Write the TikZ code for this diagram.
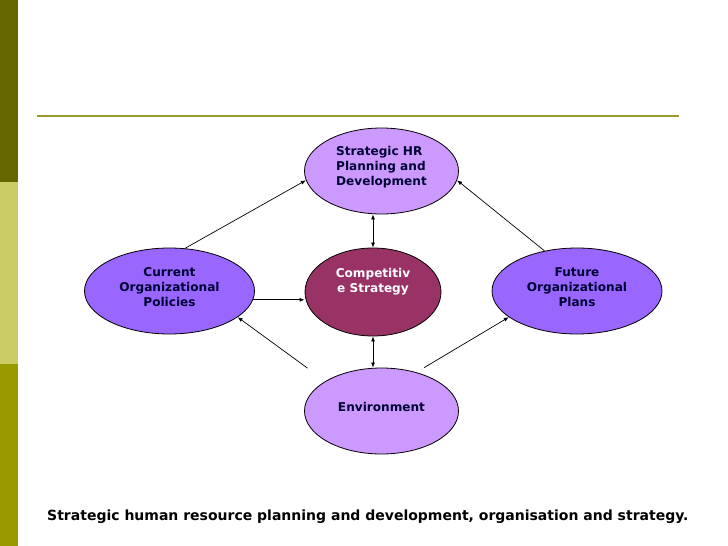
\documentclass[tikz,border=0pt]{standalone}
\usepackage{fontspec}
\setmainfont{DejaVu Sans}
\usetikzlibrary{arrows.meta,positioning,shapes.geometric,calc}
\definecolor{Pale}{HTML}{CC99FF}
\definecolor{Mid}{HTML}{9966FF}
\definecolor{Core}{HTML}{993366}
\definecolor{Ink}{HTML}{000033}
\definecolor{BarA}{HTML}{666600}
\definecolor{BarB}{HTML}{CCCC66}
\definecolor{BarC}{HTML}{999900}
\definecolor{Rule}{HTML}{999933}
\tikzset{
  oval/.style={ellipse, draw=black, line width=0.8pt, inner sep=0pt, align=center,
    text=Ink, font=\fontsize{12.1}{15}\selectfont\bfseries},
  pale/.style={oval, fill=Pale, minimum width=154pt, minimum height=86pt},
  mid/.style={oval, fill=Mid, minimum width=170pt, minimum height=86pt},
  core/.style={oval, fill=Core, text=white, minimum width=136pt, minimum height=88pt},
  link/.style={-{Latex[length=5pt,width=4pt]}, line width=0.7pt},
  both/.style={{Latex[length=5pt,width=4pt]}-{Latex[length=5pt,width=4pt]}, line width=0.7pt},
}

\begin{document}
\begin{tikzpicture}[x=1pt, y=-1pt]
  \useasboundingbox (0,0) rectangle (728,546);
  % side bars and rule
  \fill[BarA] (0,0) rectangle (18,182);
  \fill[BarB] (0,182) rectangle (18,364);
  \fill[BarC] (0,364) rectangle (18,546);
  \draw[Rule, line width=2pt] (37,116) -- (679,116);
  % ovals
  \node[pale, align=left, text depth=10pt] (top) at (381.5,171) {Strategic HR\\Planning and\\Development};
  \node[core, text depth=24pt] (comp) at (373,292) {Competitiv\\e Strategy};
  \node[mid, text depth=8pt] (cur) at (169.5,291) {Current\\Organizational\\Policies};
  \node[mid, text depth=8pt] (fut) at (577,291) {Future\\Organizational\\Plans};
  \node[pale, text depth=8pt] (env) at (381.5,411) {Environment};
  % links
  \draw[link] (cur.70) -- (top.187);
  \draw[link] (fut.129) -- (top.-7);
  \draw[link] (cur.-6) -- (cur.-6 -| comp.west);
  \draw[link, shorten <=22pt] (env.152) -- (cur.-21.5);
  \draw[link, shorten <=9pt] (env.48) -- (fut.201);
  \draw[both] (comp.north) -- (comp.north |- top.south);
  \draw[both] (comp.south) -- (comp.south |- env.north);
  \node[anchor=base west, inner sep=0pt, text=black, font=\fontsize{14}{16}\selectfont\bfseries] (cap) at (47,520)
    {Strategic human resource planning and development, organisation and strategy.};
\end{tikzpicture}
\end{document}
